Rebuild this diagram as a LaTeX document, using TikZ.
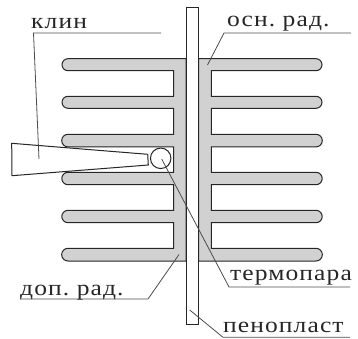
\documentclass[tikz,border=0pt]{standalone}
\usepackage{fontspec}
\setmainfont[FakeStretch=1.16,LetterSpace=5]{Liberation Serif}
\tikzset{
  outl/.style={draw=black!85,line width=1pt,line join=miter},
  fin/.style={outl,fill=black!18},
  leader/.style={draw=black!70,line width=0.8pt},
  lab/.style={inner sep=0pt,anchor=base west,font=\fontsize{22}{24}\selectfont,text=black!85}}
\begin{document}
\begin{tikzpicture}[x=1pt,y=-1pt]
\useasboundingbox (0,0) rectangle (358,339);
% radiator body
\path[fin] (186,58.7) -- (68,58.7) arc[start angle=270,end angle=90,radius=6] -- (173.7,70.7) -- (173.7,96.3)
 -- (68,96.3) arc[start angle=270,end angle=90,radius=6] -- (173.7,108.3) -- (173.7,134.3)
 -- (68,134.3) arc[start angle=270,end angle=90,radius=6.3] -- (173.7,146.9) -- (173.7,172.3)
 -- (68,172.3) arc[start angle=270,end angle=90,radius=6.2] -- (173.7,184.7) -- (173.7,210.3)
 -- (68,210.3) arc[start angle=270,end angle=90,radius=6.2] -- (173.7,222.7) -- (173.7,248.3)
 -- (68,248.3) arc[start angle=270,end angle=90,radius=6.35] -- (186,261) -- cycle;
\path[fin] (198.7,58.7) -- (316,58.7) arc[start angle=-90,end angle=90,radius=6] -- (211.3,70.7) -- (211.3,96.3)
 -- (316,96.3) arc[start angle=-90,end angle=90,radius=6] -- (211.3,108.3) -- (211.3,134.3)
 -- (316,134.3) arc[start angle=-90,end angle=90,radius=6.3] -- (211.3,146.9) -- (211.3,172.3)
 -- (316,172.3) arc[start angle=-90,end angle=90,radius=6.2] -- (211.3,184.7) -- (211.3,210.3)
 -- (316,210.3) arc[start angle=-90,end angle=90,radius=6.2] -- (211.3,222.7) -- (211.3,248.3)
 -- (316,248.3) arc[start angle=-90,end angle=90,radius=6.35] -- (198.7,261) -- cycle;
% foam
\draw[outl,fill=white] (186,7.3) rectangle (198.7,324);
% wedge
\draw[outl,fill=white] (11.7,143.3) -- (147.7,154.3) -- (148.3,165) -- (12,175.7) -- cycle;
% thermocouple
\node[draw=black!85,line width=1pt,fill=white,circle,minimum size=20.5pt,inner sep=0pt] (tc) at (160.7,158.3) {};
% leaders
\coordinate (k1) at (161,33); \coordinate (k2) at (33.5,33); \coordinate (k3) at (39,159);
\coordinate (o1) at (351,33); \coordinate (o2) at (224,33); \coordinate (o3) at (207.5,65);
\coordinate (d1) at (20,299); \coordinate (d2) at (148,299); \coordinate (d3) at (179,254.5);
\coordinate (t1) at (350,287); \coordinate (t2) at (229,287); \coordinate (t3) at (161.7,159);
\coordinate (p1) at (350,337.3); \coordinate (p2) at (223,337.3); \coordinate (p3) at (189.7,310);
\draw[leader] (k1) -- (k2) -- (k3);
\draw[leader] (o1) -- (o2) -- (o3);
\draw[leader] (d1) -- (d2) -- (d3);
\draw[leader] (t1) -- (t2) -- (t3);
\draw[leader] (p1) -- (p2) -- (p3);
% labels
\node[lab] (lk) at (31,29) {клин};
\node[lab] (lo) at (227,27) {осн.\ рад.};
\node[lab] (ld) at (20,295) {доп.\ рад.};
\node[lab] (lt) at (230,280) {термопара};
\node[lab] (lp) at (223,332.3) {пенопласт};
\end{tikzpicture}
\end{document}
